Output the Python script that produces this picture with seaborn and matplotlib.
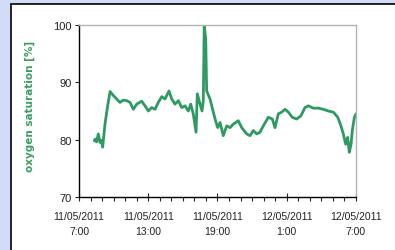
import numpy as np
import pandas as pd
import matplotlib
matplotlib.use("Agg")
import matplotlib.pyplot as plt
import seaborn as sns
from matplotlib.ticker import MultipleLocator
from matplotlib.patches import Rectangle

# hours after 11/05/2011 7:00 and oxygen saturation [%]
hours = [1.33, 1.39, 1.52, 1.67, 1.82, 1.94, 2.05, 2.25, 2.46, 2.69, 2.98, 3.26,
         3.55, 3.84, 4.13, 4.42, 4.71, 5.0, 5.43, 5.72, 6.01, 6.30, 6.59, 6.87,
         7.17, 7.45, 7.80, 8.03, 8.32, 8.61, 8.90, 9.19, 9.47, 9.68, 9.90, 10.14,
         10.25, 10.49, 10.66, 10.77, 10.85, 10.98, 11.06, 11.35, 11.79, 12.02,
         12.22, 12.50, 12.80, 13.08, 13.37, 13.80, 14.10, 14.53, 14.82, 15.10,
         15.40, 15.68, 15.97, 16.40, 16.75, 16.98, 17.27, 17.56, 17.85, 18.14,
         18.48, 18.86, 19.24, 19.58, 19.87, 20.30, 20.74, 21.17, 21.60, 22.04,
         22.42, 22.70, 22.90, 23.11, 23.28, 23.42, 23.57, 23.68, 23.86, 24.0]
saturation = [79.8, 80.1, 79.6, 81.0, 79.5, 79.9, 78.7, 82.7, 85.6, 88.4, 87.7, 87.1,
              86.5, 86.9, 86.8, 86.5, 85.3, 86.2, 86.7, 85.9, 85.0, 85.6, 85.3, 86.5,
              87.5, 87.1, 88.5, 87.1, 86.2, 86.8, 85.6, 85.9, 85.0, 86.2, 84.5, 81.3,
              88.0, 86.2, 85.0, 86.8, 99.9, 97.6, 88.5, 87.1, 83.6, 82.1,
              83.0, 80.7, 82.4, 82.1, 82.7, 83.3, 82.1, 81.0, 80.7, 81.6,
              81.0, 81.3, 82.4, 83.9, 83.6, 82.1, 84.5, 84.8, 85.3, 84.8,
              83.9, 83.6, 84.2, 85.6, 85.9, 85.5, 85.5, 85.3, 85.0, 84.8,
              83.9, 82.4, 81.0, 79.2, 80.4, 77.8, 79.2, 81.6, 83.9, 84.5]

xtick_pos = [0, 6, 12, 18, 24]
xtick_labels = ["11/05/2011\n7:00", "11/05/2011\n13:00", "11/05/2011\n19:00",
                "12/05/2011\n1:00", "12/05/2011\n7:00"]

df = pd.DataFrame({"hours": hours, "saturation": saturation})

sns.set_style("white")
plt.rcParams['font.family'] = ['Liberation Sans', 'DejaVu Sans']

fig = plt.figure(figsize=(3.95, 2.51), dpi=100, facecolor="#d3dcf6")
# white panel with black border, behind the axes
fig.patches.append(Rectangle((11 / 395, -0.1), 1.2, 1 - 5 / 251 + 0.1,
                             transform=fig.transFigure, facecolor="white",
                             edgecolor="black", linewidth=1.2, zorder=-5))

ax = fig.add_axes([79 / 395, 1 - 198 / 251, (356 - 79) / 395, (198 - 26) / 251])
sns.lineplot(data=df, x="hours", y="saturation", ax=ax, color="#2e9a62",
             linewidth=2.0)

ax.set_xlim(0, 24)
ax.set_ylim(70, 100)
ax.set_xticks(xtick_pos)
ax.set_xticklabels(xtick_labels, fontsize=7.5, linespacing=1.6)
ax.xaxis.set_minor_locator(MultipleLocator(1))
ax.set_yticks([70, 80, 90, 100])
ax.tick_params(axis="y", labelsize=8, length=3, width=0.8, direction="out",
               left=True, pad=2, labelcolor="#222222")
ax.tick_params(axis="x", which="major", length=6, width=0.8, direction="inout",
               bottom=True, pad=7, labelcolor="#222222")
ax.tick_params(axis="x", which="minor", length=3, width=0.8, direction="out",
               bottom=True)
ax.set_xlabel("")
ax.set_ylabel("oxygen saturation [%]", color="#3a9e62", fontsize=7.5,
              fontweight="bold", family="DejaVu Sans")
ax.yaxis.set_label_coords(-0.16, 0.53)

for s in ["top", "right"]:
    ax.spines[s].set_color("#b4b4b4")
    ax.spines[s].set_linewidth(1.0)
for s in ["left", "bottom"]:
    ax.spines[s].set_color("black")
    ax.spines[s].set_linewidth(1.0)

fig.savefig("out.png", dpi=100, facecolor=fig.get_facecolor())
